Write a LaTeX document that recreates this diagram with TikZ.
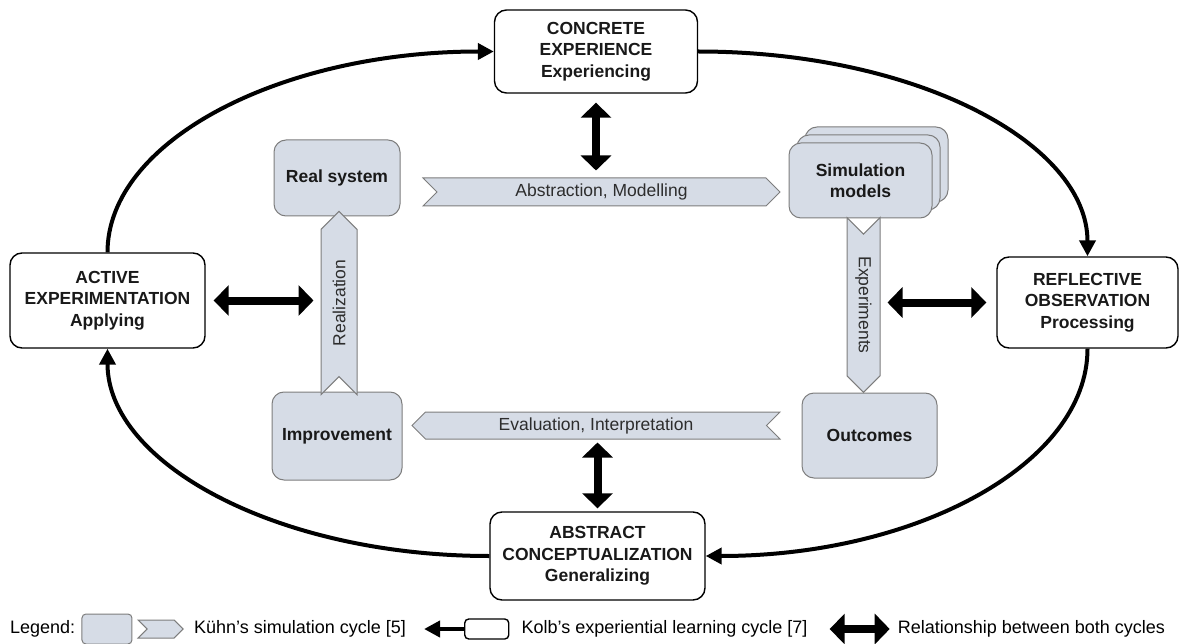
\documentclass[tikz,border=0pt]{standalone}
\usepackage{fontspec}
\setmainfont{Liberation Sans}
\usepackage{graphicx}
\usetikzlibrary{
    positioning,      % Relative positioning
    shapes.symbols,   % Signal (chevron) shapes
    arrows.meta,      % Modern arrow tips
    shadows           % Stacked copies
}

\definecolor{kuehnfill}{RGB}{214,220,230}
\definecolor{kuehnline}{RGB}{125,125,125}
\definecolor{flowtext}{RGB}{45,45,45}

\newcommand{\kfont}{\fontsize{17.5}{21.5}\selectfont}
\newcommand{\lfont}{\fontsize{18}{22}\selectfont}

\tikzset{
    kolbbox/.style={draw=black, line width=1.4pt, fill=white, rounded corners=12pt,
        align=center, font=\kfont\bfseries, text=black!90, inner sep=0pt},
    kuehnbox/.style={draw=kuehnline, line width=1pt, fill=kuehnfill, rounded corners=12pt,
        align=center, font=\kfont\bfseries, text=black!90, inner sep=0pt},
    kuehnflow/.style={shape=signal, signal pointer angle=90, draw=kuehnline, line width=1pt,
        fill=kuehnfill, inner sep=0pt, font=\kfont, text=flowtext},
    kolbarc/.style={line width=4pt, -{Triangle[width=16pt,length=16pt]}},
    relarrow/.style={line width=8pt, {Triangle[width=30pt,length=15pt]}-{Triangle[width=30pt,length=15pt]}},
    legendtext/.style={anchor=west, font=\lfont, inner sep=0pt}
}

\begin{document}
\begin{tikzpicture}[x=1pt,y=-1pt]
    \useasboundingbox (0,0) rectangle (1185,644);

    % Kolb's experiential learning cycle
    \node[kolbbox, minimum width=203pt, minimum height=83pt] (concrete) at (596,51.5) {CONCRETE\\EXPERIENCE\\Experiencing};
    \node[kolbbox, minimum width=181pt, minimum height=91pt] (reflective) at (1087.5,302.5) {REFLECTIVE\\OBSERVATION\\Processing};
    \node[kolbbox, minimum width=215pt, minimum height=88pt] (abstract) at (597.5,556) {ABSTRACT\\CONCEPTUALIZATION\\Generalizing};
    \node[kolbbox, minimum width=195pt, minimum height=95pt] (active) at (107.5,300.5) {ACTIVE\\EXPERIMENTATION\\Applying};

    \draw[kolbarc] (concrete.east) .. controls +(218,0) and +(0,-113) .. (reflective.north);
    \draw[kolbarc] (reflective.south) .. controls +(0,115) and +(211,0) .. (abstract.east);
    \draw[kolbarc] (abstract.west) .. controls +(-211,0) and +(0,115) .. (active.south);
    \draw[kolbarc] (active.north) .. controls +(0,-111) and +(-214,0) .. (concrete.west);

    % Kuehn's simulation cycle
    \node[kuehnbox, minimum width=126pt, minimum height=76pt] (realsys) at (337,178) {Real system};
    \node[kuehnbox, minimum width=143pt, minimum height=75pt,
        copy shadow={shadow xshift=16pt, shadow yshift=16pt, draw=kuehnline, line width=1pt, fill=kuehnfill},
        copy shadow={shadow xshift=8pt, shadow yshift=8pt, draw=kuehnline, line width=1pt, fill=kuehnfill}]
        (simmodels) at (860.5,180.5) {Simulation\\models};
    \node[kuehnbox, minimum width=135pt, minimum height=85pt] (outcomes) at (869.5,435.5) {Outcomes};
    \node[kuehnbox, minimum width=130pt, minimum height=88pt] (improvement) at (337,436) {Improvement};

    \node[kuehnflow, signal from=west, signal to=east, minimum width=357pt, minimum height=28pt]
        (modelling) at (601.5,192) {Abstraction, Modelling};
    \node[kuehnflow, signal from=north, signal to=south, minimum width=33pt, minimum height=158pt]
        (experiments) at (863.5,305) {\rotatebox{-90}{Experiments}};
    \node[kuehnflow, signal from=east, signal to=west, minimum width=368pt, minimum height=27pt]
        (evaluation) at (596,425.5) {Evaluation, Interpretation};
    \node[kuehnflow, signal from=south, signal to=north, minimum width=36pt, minimum height=160pt]
        (realization) at (339,303) {\rotatebox{90}{Realization}};

    % relationship between both cycles
    \draw[relarrow, shorten <=9pt, shorten >=7pt] (concrete.south) -- (concrete.south |- modelling.north);
    \draw[relarrow, shorten <=8pt, shorten >=7pt] (active.east) -- (active.east -| realization.west);
    \draw[relarrow, shorten <=10pt, shorten >=7pt] (reflective.west) -- (reflective.west -| experiments.east);
    \draw[relarrow, shorten <=3pt, shorten >=3pt] (abstract.north) -- (abstract.north |- evaluation.south);

    % legend
    \node[legendtext] (legend) at (10,629) {Legend:};
    \node[draw=kuehnline, line width=1pt, fill=kuehnfill, rounded corners=4pt,
        minimum width=50pt, minimum height=30pt, right=6pt of legend] (legkuehnbox) {};
    \node[kuehnflow, signal from=west, signal to=east, minimum width=45pt, minimum height=18pt,
        right=14pt of legkuehnbox] (legkuehnflow) {};
    \node[legendtext, right=10pt of legkuehnflow] (legkuehn) {Kühn’s simulation cycle [5]};
    \node[draw=black, line width=1.4pt, fill=white, rounded corners=4pt,
        minimum width=44pt, minimum height=20pt, right=58pt of legkuehn] (legkolbbox) {};
    \coordinate[left=40pt of legkolbbox.west] (legkolbtip);
    \draw[kolbarc] (legkolbbox.west) -- (legkolbtip);
    \node[legendtext, right=12pt of legkolbbox] (legkolb) {Kolb’s experiential learning cycle [7]};
    \coordinate[right=22pt of legkolb.east] (legrelstart);
    \coordinate[right=60pt of legrelstart] (legrelend);
    \draw[relarrow] (legrelstart) -- (legrelend);
    \node[legendtext, right=8pt of legrelend] (legrel) {Relationship between both cycles};
\end{tikzpicture}
\end{document}
